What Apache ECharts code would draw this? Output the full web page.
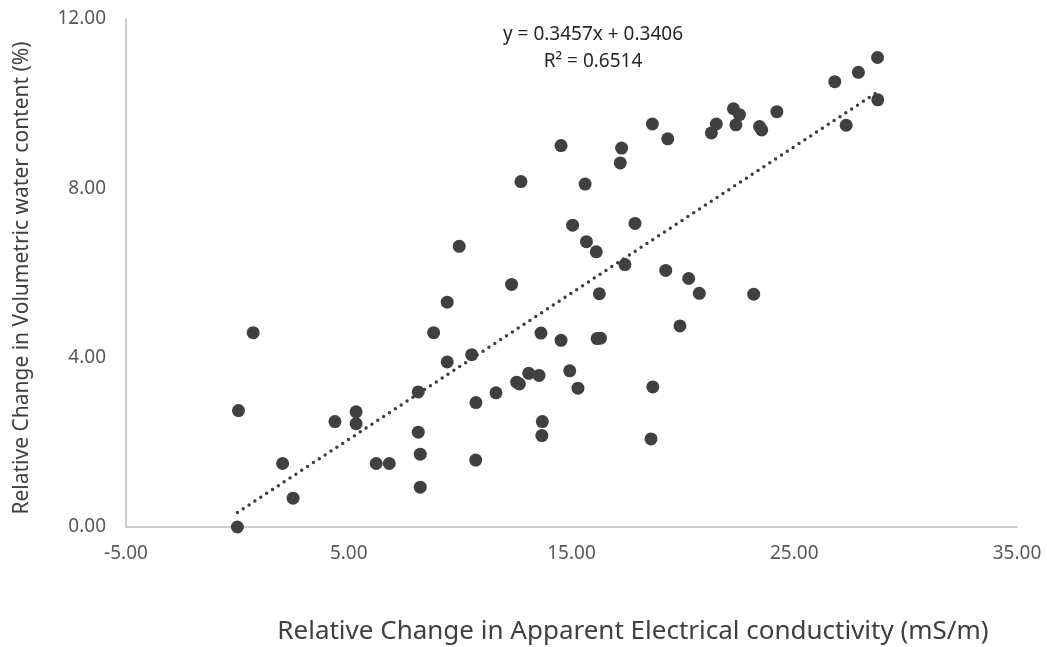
<!DOCTYPE html>
<html>
<head>
<meta charset="utf-8">
<script src="https://cdn.jsdelivr.net/npm/echarts@6/dist/echarts.min.js"></script>
<style>
html,body{margin:0;padding:0;background:#fff;}
#chart{width:1047px;height:647px;}
</style>
</head>
<body>
<div id="chart"></div>
<script>
// Data
var xValues = [0, 0.71, 0.05, 2.03, 2.50, 4.38, 5.33, 5.33, 6.23, 6.82, 8.12, 8.12, 8.21, 8.21, 8.81, 9.42, 9.42, 9.96, 10.52, 10.71, 10.70, 11.61, 12.31, 12.54, 12.66, 12.73, 13.08, 13.54, 13.63, 13.69, 13.67, 14.53, 14.53, 14.92, 15.05, 15.29, 15.61, 15.67, 16.11, 16.25, 16.15, 16.30, 17.19, 17.25, 17.40, 17.85, 18.57, 18.65, 18.63, 19.23, 19.32, 19.87, 20.26, 20.74, 21.28, 21.50, 22.27, 22.38, 22.54, 23.18, 23.44, 23.54, 24.22, 26.82, 27.33, 27.88, 28.74, 28.75];
var yValues = [0, 4.59, 2.75, 1.50, 0.68, 2.49, 2.72, 2.44, 1.50, 1.50, 3.19, 2.24, 1.72, 0.94, 4.59, 5.31, 3.90, 6.63, 4.07, 2.94, 1.58, 3.17, 5.73, 3.42, 3.38, 8.16, 3.63, 3.58, 4.58, 2.49, 2.16, 9.01, 4.41, 3.69, 7.13, 3.28, 8.10, 6.74, 6.50, 5.51, 4.45, 4.46, 8.60, 8.95, 6.20, 7.17, 2.08, 3.31, 9.52, 6.06, 9.17, 4.75, 5.87, 5.52, 9.31, 9.52, 9.88, 9.50, 9.74, 5.50, 9.46, 9.38, 9.81, 10.52, 9.49, 10.74, 11.09, 10.09];
var slope = 0.3457;
var intercept = 0.3406;
var rSquared = 0.6514;
var xTitle = 'Relative Change in Apparent Electrical conductivity (mS/m)';
var yTitle = 'Relative Change in Volumetric water content (%)';

var points = xValues.map(function (x, i) { return [x, yValues[i]]; });
var xMin = Math.min.apply(null, xValues), xMax = Math.max.apply(null, xValues);
var trend = [[xMin, slope * xMin + intercept], [xMax, slope * xMax + intercept]];

var chart = echarts.init(document.getElementById('chart'), null, {renderer: 'canvas'});
var font = '"Noto Sans", "Open Sans", sans-serif';
chart.setOption({
  animation: false,
  backgroundColor: '#ffffff',
  grid: {left: 126, right: 30, top: 19, bottom: 120},
  xAxis: {
    type: 'value', min: -5, max: 35, interval: 10,
    axisLine: {show: true, onZero: false, lineStyle: {color: '#bfbfbf', width: 1.5}},
    axisTick: {show: false},
    splitLine: {show: false},
    axisLabel: {color: '#595959', fontSize: 19, fontFamily: font, margin: 17,
      formatter: function (v) { return v.toFixed(2); }}
  },
  yAxis: {
    type: 'value', min: 0, max: 12, interval: 4,
    axisLine: {show: true, onZero: false, lineStyle: {color: '#bfbfbf', width: 1.5}},
    axisTick: {show: false},
    splitLine: {show: false},
    axisLabel: {color: '#595959', fontSize: 19, fontFamily: font, margin: 20,
      formatter: function (v) { return v.toFixed(2); }}
  },
  graphic: [
    {type: 'text', x: 633, y: 632, style: {text: xTitle, fill: '#404040', font: '26px ' + font, textAlign: 'center', textVerticalAlign: 'middle'}},
    {type: 'text', x: 22, y: 278, rotation: Math.PI / 2, style: {text: yTitle, fill: '#404040', font: '21px ' + font, textAlign: 'center', textVerticalAlign: 'middle'}},
    {type: 'text', x: 593, y: 35, style: {text: 'y = ' + slope + 'x + ' + intercept, fill: '#262626', font: '19px ' + font, textAlign: 'center', textVerticalAlign: 'middle'}},
    {type: 'text', x: 593, y: 62, style: {text: 'R\u00b2 = ' + rSquared, fill: '#262626', font: '19px ' + font, textAlign: 'center', textVerticalAlign: 'middle'}}
  ],
  series: [
    {
      type: 'line', data: trend, showSymbol: false, symbol: 'none', silent: true, z: 1,
      lineStyle: {color: '#404040', width: 3.5, type: [0, 7], cap: 'round'}
    },
    {
      type: 'scatter', data: points, symbol: 'circle', symbolSize: 13, z: 2,
      itemStyle: {color: '#404040', opacity: 1}
    }
  ]
});
</script>
</body>
</html>
